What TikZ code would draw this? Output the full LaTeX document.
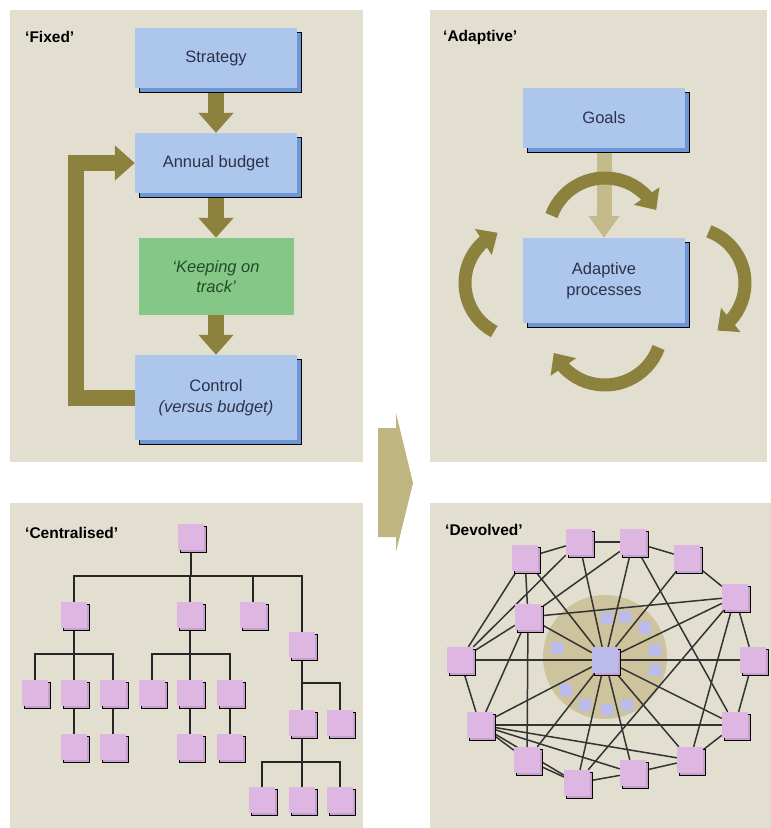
\documentclass[tikz,border=0pt]{standalone}
\usepackage{fontspec}
\setmainfont{Liberation Sans}
\usetikzlibrary{arrows.meta,bending,shadows}
\definecolor{panel}{RGB}{227,223,208}
\definecolor{boxblue}{RGB}{172,198,236}
\definecolor{boxedge}{RGB}{108,150,212}
\definecolor{boxtext}{RGB}{45,50,75}
\definecolor{trackgreen}{RGB}{133,199,135}
\definecolor{tracktext}{RGB}{35,75,40}
\definecolor{olive}{RGB}{140,130,62}
\definecolor{lighttan}{RGB}{196,186,140}
\definecolor{chevron}{RGB}{190,181,128}
\definecolor{pink}{RGB}{222,182,226}
\definecolor{pinkedge}{RGB}{200,160,205}
\definecolor{lilac}{RGB}{188,188,236}
\definecolor{ring}{RGB}{205,196,158}
\pgfdeclarelayer{panels}
\pgfdeclarelayer{links}
\pgfsetlayers{panels,links,main}

\begin{document}
\begin{tikzpicture}[
    x=1pt, y=-1pt,
    every node/.style={font=\fontsize{16.5}{20.5}\selectfont, text=boxtext, align=center, inner sep=0pt},
    title/.style={anchor=west, font=\fontsize{15.5}{18}\selectfont\bfseries, text=black},
    bluebox/.style={fill=boxblue, minimum width=162pt, copy shadow={shadow xshift=4.5pt, shadow yshift=-4.5pt, fill=boxedge}},
    trackbox/.style={fill=trackgreen, minimum width=155pt, minimum height=77pt, text=tracktext, font=\fontsize{16.5}{20}\selectfont\itshape},
    flow/.style={draw=olive, line width=16pt, line join=miter, -{Triangle[width=34pt,length=20pt]}},
    loopflow/.style={draw=olive, line width=13pt, -{Triangle[width=30pt,length=17pt]}},
    leaf/.style={fill=pink, minimum size=26pt, copy shadow={shadow xshift=2.5pt, shadow yshift=-2.5pt, fill=pinkedge}},
    hubnode/.style={leaf, fill=lilac},
    dot/.style={fill=lilac, minimum size=12pt},
    branch/.style={draw=black!85, line width=1.6pt},
    link/.style={draw=black!80, line width=1.5pt}
  ]
    \useasboundingbox (0,0) rectangle (771,828);
    \begin{pgfonlayer}{panels}
      \fill[white] (0,0) rectangle (771,828);
      \fill[panel] (10,10) rectangle (363,462);
      \fill[panel] (430,10) rectangle (767,462);
      \fill[panel] (10,503) rectangle (363,828);
      \fill[panel] (430,503) rectangle (771,828);
      \fill[ring] (605,657) circle[radius=62];
    \end{pgfonlayer}

    \node[title] (fixed) at (25,37) {‘Fixed’};
    \node[title] (adapt) at (443,37) {‘Adaptive’};
    \node[title] (central) at (25,533) {‘Centralised’};
    \node[title] (devolved) at (445,530) {‘Devolved’};

    \node[bluebox, minimum height=60pt] (strategy) at (216,58) {Strategy};
    \node[bluebox, minimum height=60pt] (budget) at (216,163) {Annual budget};
    \node[trackbox] (keeping) at (216,276.5) {‘Keeping on\\track’};
    \node[bluebox, minimum height=85pt] (control) at (216,397.5) {Control\\\textit{(versus budget)}};
    \begin{pgfonlayer}{links}
      \draw[flow] (strategy.south) -- (budget.north);
      \draw[flow] (budget.south) -- (keeping.north);
      \draw[flow] (keeping.south) -- (control.north);
      \draw[flow] (control.west) -- ++(-59,0) |- (budget.west);
    \end{pgfonlayer}

    \node[bluebox, minimum height=60pt] (goals) at (604,118) {Goals};
    \node[bluebox, minimum height=85pt] (adaptive) at (604,280.5) {Adaptive\\processes};
    \begin{pgfonlayer}{links}
      \draw[flow, draw=lighttan, line width=15pt, -{Triangle[width=30pt,length=22pt]}] (goals.south) -- (adaptive.north);
    \end{pgfonlayer}
    \coordinate (topturn) at (605,235);
    \coordinate (leftturn) at (520,283);
    \coordinate (rightturn) at (690,283);
    \coordinate (lowturn) at (605,328);
    \draw[loopflow] (topturn) ++(200:57) arc[start angle=200, end angle=334, radius=57];
    \draw[loopflow] (rightturn) ++(-70:55) arc[start angle=-70, end angle=60, radius=55];
    \draw[loopflow] (lowturn) ++(20:57) arc[start angle=20, end angle=154, radius=57];
    \draw[loopflow] (leftturn) ++(118:55) arc[start angle=118, end angle=246, radius=55];

    \fill[chevron] (378,428) -- (396,428) -- (396,413) -- (413,483) -- (396,552) -- (396,537) -- (378,537) -- cycle;

    \node[leaf] (c0) at (191,537) {};
    \node[leaf] (c1) at (74,615) {};
    \node[leaf] (c2) at (190,615) {};
    \node[leaf] (c3) at (253,615) {};
    \node[leaf] (c4) at (302,645) {};
    \node[leaf] (c11) at (35,693) {};
    \node[leaf] (c12) at (74,693) {};
    \node[leaf] (c13) at (113,693) {};
    \node[leaf] (c21) at (152,693) {};
    \node[leaf] (c22) at (190,693) {};
    \node[leaf] (c23) at (230,693) {};
    \node[leaf] (c121) at (74,747) {};
    \node[leaf] (c131) at (113,747) {};
    \node[leaf] (c221) at (190,747) {};
    \node[leaf] (c231) at (230,747) {};
    \node[leaf] (c41) at (302,723) {};
    \node[leaf] (c42) at (340,723) {};
    \node[leaf] (c411) at (262,800) {};
    \node[leaf] (c412) at (302,800) {};
    \node[leaf] (c413) at (340,800) {};
    \begin{pgfonlayer}{links}
      \foreach \k in {c1,c2,c3,c4} \draw[branch] (c0) -- ++(0,39) -| (\k);
      \foreach \k in {c11,c12,c13} \draw[branch] (c1) -- ++(0,39) -| (\k);
      \foreach \k in {c21,c22,c23} \draw[branch] (c2) -- ++(0,39) -| (\k);
      \foreach \k in {c41,c42} \draw[branch] (c4) -- ++(0,38) -| (\k);
      \foreach \k in {c411,c412,c413} \draw[branch] (c41) -- ++(0,39) -| (\k);
      \foreach \a/\b in {c12/c121, c13/c131, c22/c221, c23/c231} \draw[branch] (\a) -- (\b);
    \end{pgfonlayer}

    \foreach \p [count=\i] in {(607,618),(625,617),(645,628),(655,650),(655,670),(627,705),(607,710),(585,705),(566,690),(557,648)}
      \node[dot] (dot\i) at \p {};
    \node[leaf] (m1) at (525,558) {};
    \node[leaf] (m2) at (579,542) {};
    \node[leaf] (m3) at (633,542) {};
    \node[leaf] (m4) at (687,558) {};
    \node[leaf] (m5) at (735,597) {};
    \node[leaf] (m6) at (753,660) {};
    \node[leaf] (m7) at (735,725) {};
    \node[leaf] (m8) at (690,760) {};
    \node[leaf] (m9) at (633,773) {};
    \node[leaf] (m10) at (577,783) {};
    \node[leaf] (m11) at (527,760) {};
    \node[leaf] (m12) at (480,725) {};
    \node[leaf] (m13) at (460,660) {};
    \node[leaf] (m14) at (528,617) {};
    \node[hubnode] (hub) at (605,660) {};
    \begin{pgfonlayer}{links}
      \foreach \a/\b in {m1/m2, m2/m3, m3/m4, m4/m5, m5/m6, m6/m7, m7/m8, m8/m9, m9/m10, m10/m11, m11/m12, m12/m13, m13/m1,
          m13/m6, m2/m13, m3/m7, m5/m10, m5/m8,
          m14/m1, m14/m3, m14/m5, m14/m11, m14/m12, m14/m13,
          m12/m7, m12/m8, m12/m9, m12/m10}
        \draw[link] (\a) -- (\b);
      \foreach \b in {m1,m2,m3,m4,m5,m7,m8,m9,m10,m11,m12,m14}
        \draw[link] (hub) -- (\b);
    \end{pgfonlayer}
  \end{tikzpicture}
\end{document}
